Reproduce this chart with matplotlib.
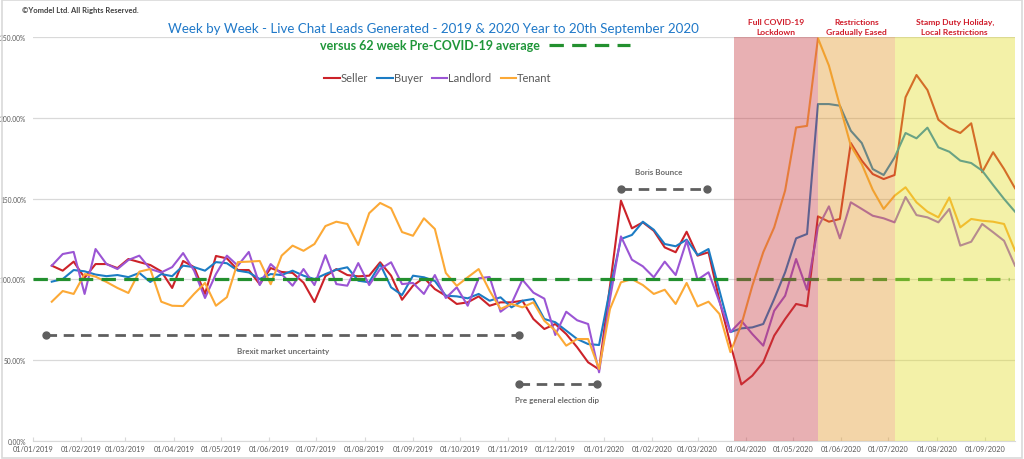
import numpy as np
import pandas as pd
import matplotlib
matplotlib.use('Agg')
import matplotlib.pyplot as plt
import matplotlib.dates as mdates
from matplotlib.lines import Line2D
from matplotlib.patches import Rectangle

plt.rcParams['font.family'] = ['Lato', 'DejaVu Sans']

# ------------------------------------------------------------
# Data: weekly live chat leads, % of 62 week pre-COVID average
# ------------------------------------------------------------
first_week = '2019-01-13'
n_weeks = 89

seller = [108.5, 105.4, 111.0, 101.0, 109.5, 109.5, 107.0, 112.6, 110.7, 108.9,
          105.0, 94.7, 111.4, 107.6, 91.0, 114.5, 113.0, 105.8, 105.8, 97.0,
          107.0, 104.6, 104.0, 98.0, 86.0, 102.0, 106.4, 102.7, 101.9, 102.3,
          110.6, 102.3, 87.4, 96.1, 101.0, 94.0, 89.9, 84.8, 85.8, 89.5,
          83.7, 85.8, 85.8, 86.8, 75.5, 69.3, 72.4, 66.2, 58.0, 48.7,
          44.3, 96.0, 148.7, 131.6, 135.3, 130.1, 119.8, 116.8, 129.5, 114.7,
          116.8, 87.0, 60.0, 35.0, 40.4, 48.7, 65.2, 75.5, 84.8, 83.3,
          139.0, 135.7, 137.4, 184.4, 173.5, 165.2, 162.1, 164.6, 212.7, 226.5,
          217.2, 198.8, 193.5, 190.6, 196.6, 166.3, 178.7, 168.3, 156.4]

buyer = [98.6, 100.2, 105.8, 105.0, 103.0, 102.0, 102.7, 101.4, 104.0, 98.4,
         103.3, 102.0, 108.5, 107.6, 105.4, 110.7, 110.0, 105.4, 104.3, 100.2,
         103.3, 102.7, 105.4, 102.3, 100.2, 103.3, 106.0, 107.5, 99.2, 98.2,
         109.5, 95.1, 90.3, 102.3, 101.3, 99.0, 89.9, 89.5, 88.3, 91.0,
         86.8, 88.9, 82.7, 86.8, 87.9, 75.5, 73.5, 68.3, 63.1, 60.0,
         59.4, 94.0, 125.0, 127.5, 135.7, 130.7, 121.9, 120.5, 124.6, 115.1,
         118.8, 93.0, 67.4, 69.7, 70.3, 72.4, 87.9, 104.4, 125.4, 128.1,
         208.5, 208.5, 207.5, 192.0, 184.4, 168.3, 164.6, 175.5, 190.6, 187.3,
         193.9, 181.7, 179.0, 173.5, 172.0, 167.3, 158.4, 149.8, 141.9]

landlord = [108.5, 115.7, 117.0, 91.0, 118.8, 109.5, 106.4, 112.0, 114.7, 106.4,
            104.3, 107.6, 116.3, 105.4, 88.5, 103.3, 114.7, 108.5, 117.0, 96.5,
            109.5, 103.3, 96.1, 106.4, 96.5, 115.0, 97.1, 96.1, 110.1, 96.5,
            106.4, 110.6, 97.1, 97.8, 91.0, 102.7, 88.5, 95.1, 83.7, 100.7,
            101.5, 80.0, 85.0, 99.8, 91.8, 88.1, 65.6, 80.0, 74.7, 72.4,
            42.5, 88.0, 126.6, 112.2, 108.1, 101.3, 111.0, 102.7, 123.9, 99.8,
            104.4, 86.0, 67.4, 74.4, 66.2, 59.0, 80.6, 89.9, 112.6, 93.6,
            132.2, 145.2, 125.4, 147.7, 143.6, 139.4, 137.8, 135.3, 151.0, 139.8,
            138.4, 135.3, 143.6, 120.9, 123.3, 134.3, 129.2, 123.9, 108.5]

tenant = [86.2, 92.8, 91.0, 103.3, 101.7, 98.4, 94.7, 91.6, 104.8, 106.4,
          86.2, 83.7, 83.5, 91.0, 97.8, 83.7, 89.0, 110.7, 111.0, 111.4,
          97.0, 114.7, 120.9, 117.7, 121.9, 133.0, 135.7, 134.3, 121.3, 141.0,
          147.3, 144.0, 129.3, 127.0, 137.8, 131.2, 104.0, 96.0, 101.3, 106.4,
          93.0, 81.7, 84.8, 82.7, 85.8, 74.4, 68.3, 59.0, 63.1, 63.1,
          44.6, 81.7, 98.2, 100.2, 96.5, 91.0, 93.6, 84.8, 97.8, 83.3,
          86.2, 78.6, 55.0, 72.0, 96.0, 116.8, 132.2, 155.0, 194.0, 195.0,
          249.2, 232.3, 207.5, 182.7, 171.4, 155.5, 143.6, 151.8, 157.0, 147.7,
          141.9, 138.4, 150.7, 132.2, 137.4, 136.3, 135.7, 134.3, 117.8]

series_names = ['Seller', 'Buyer', 'Landlord', 'Tenant']
series_colors = ['#cc2229', '#1c7cc4', '#9b55d4', '#fca936']

# 62 week pre-COVID average reference (=100%)
avg_level = 100
avg_span = ['2019-01-01', '2020-09-16']

# Shaded COVID-19 phases
phase_edges = ['2020-03-24', '2020-05-17', '2020-07-05', '2020-09-20']
phase_labels = ['Full COVID-19\nLockdown', 'Restrictions\nGradually Eased',
                'Stamp Duty Holiday,\nLocal Restrictions']
phase_colors = ['#c63a41', '#e19626', '#e1de26']

# Commentary markers: (start, end, level, label, label_x, label_y)
notes = [
    ('2019-01-09', '2019-11-08', 65.6, 'Brexit market uncertainty', '2019-06-10', 55.7),
    ('2019-11-08', '2019-12-28', 35.3, 'Pre general election dip', '2019-12-02', 25.4),
    ('2020-01-12', '2020-03-07', 156.0, 'Boris Bounce', '2020-02-05', 166.5),
]

# ------------------------------------------------------------
# Figure
# ------------------------------------------------------------
weeks = pd.date_range(first_week, periods=n_weeks, freq='7D')

fig = plt.figure(figsize=(10.24, 4.6), dpi=100)
ax = fig.add_axes([33 / 1024, 18 / 460, 982 / 1024, 404 / 460])

for vals, name, col in zip([seller, buyer, landlord, tenant], series_names, series_colors):
    ax.plot(weeks, vals, color=col, linewidth=1.5, label=name, zorder=3)

ax.plot(pd.to_datetime(avg_span), [avg_level, avg_level], color='#23902f',
        linewidth=2.3, linestyle=(0, (4.5, 2.6)), zorder=4)

for (s, e, lvl, label, tx, ty) in notes:
    ax.plot(pd.to_datetime([s, e]), [lvl, lvl], color='#5f5f5f', linewidth=2.0,
            linestyle=(0, (3.8, 2.4)), zorder=4)
    ax.plot(pd.to_datetime([s, e]), [lvl, lvl], 'o', color='#5f5f5f',
            markersize=5, zorder=4)
    ax.text(pd.Timestamp(tx), ty, label, ha='center', va='center', fontsize=5.8,
            fontweight='bold', color='#6b6b6b')

# phases drawn over the lines, as in the original
for i, col in enumerate(phase_colors):
    ax.axvspan(pd.Timestamp(phase_edges[i]), pd.Timestamp(phase_edges[i + 1]),
               ymin=0, ymax=1, color=col, alpha=0.4, linewidth=0, zorder=5)
    mid = pd.Timestamp(phase_edges[i]) + (pd.Timestamp(phase_edges[i + 1]) - pd.Timestamp(phase_edges[i])) / 2
    ax.text(mid, 256.5, phase_labels[i], ha='center', va='center', fontsize=6.1,
            fontweight='bold', color='#d01c2a', linespacing=1.4, clip_on=False)

ax.set_xlim(pd.Timestamp('2019-01-01'), pd.Timestamp('2020-09-20'))
ax.set_ylim(0, 250)
ax.set_yticks([0, 50, 100, 150, 200, 250])
ax.set_yticklabels(['0.00%', '50.00%', '100.00%', '150.00%', '200.00%', '250.00%'])
ax.xaxis.set_major_locator(mdates.MonthLocator())
ax.xaxis.set_major_formatter(mdates.DateFormatter('%d/%m/%Y'))
ax.tick_params(axis='x', labelsize=5.3, colors='#595959', length=3, direction='in',
               color='#d9d9d9', pad=3)
ax.tick_params(axis='y', labelsize=4.8, colors='#595959', length=0, pad=5)
ax.grid(True, axis='y', color='#d9d9d9', linewidth=0.9, zorder=0)
for side in ['top', 'right', 'left']:
    ax.spines[side].set_visible(False)
ax.spines['bottom'].set_color('#d9d9d9')
ax.set_axisbelow(True)

# titles and legend
fig.text(433 / 1024, 1 - 29 / 460,
         'Week by Week - Live Chat Leads Generated - 2019 & 2020 Year to 20th September 2020',
         ha='center', va='center', fontsize=9.6, color='#1f78c8')
fig.text(430 / 1024, 1 - 46 / 460, 'versus 62 week Pre-COVID-19 average',
         ha='center', va='center', fontsize=9, fontweight='bold', color='#1f9639')
fig.add_artist(Line2D([549 / 1024, 630 / 1024], [1 - 46 / 460, 1 - 46 / 460],
                      color='#23902f', linewidth=2.3, linestyle=(0, (4.5, 2.6))))
fig.text(22 / 1024, 1 - 10 / 460, '\u00a9Yomdel Ltd. All Rights Reserved.',
         ha='left', va='center', fontsize=5.5, fontweight='bold', color='#404040')

leg = fig.legend(loc='center', bbox_to_anchor=(438 / 1024, 1 - 79 / 460), ncol=4,
                 frameon=False, fontsize=8, handlelength=1.4, handletextpad=0.1,
                 columnspacing=0.8)
for t in leg.get_texts():
    t.set_color('#595959')

fig.add_artist(Rectangle((0.002, 0.003), 0.996, 0.994, transform=fig.transFigure,
                         fill=False, edgecolor='#d9d9d9', linewidth=1.2))

fig.savefig('out.png', dpi=100)
